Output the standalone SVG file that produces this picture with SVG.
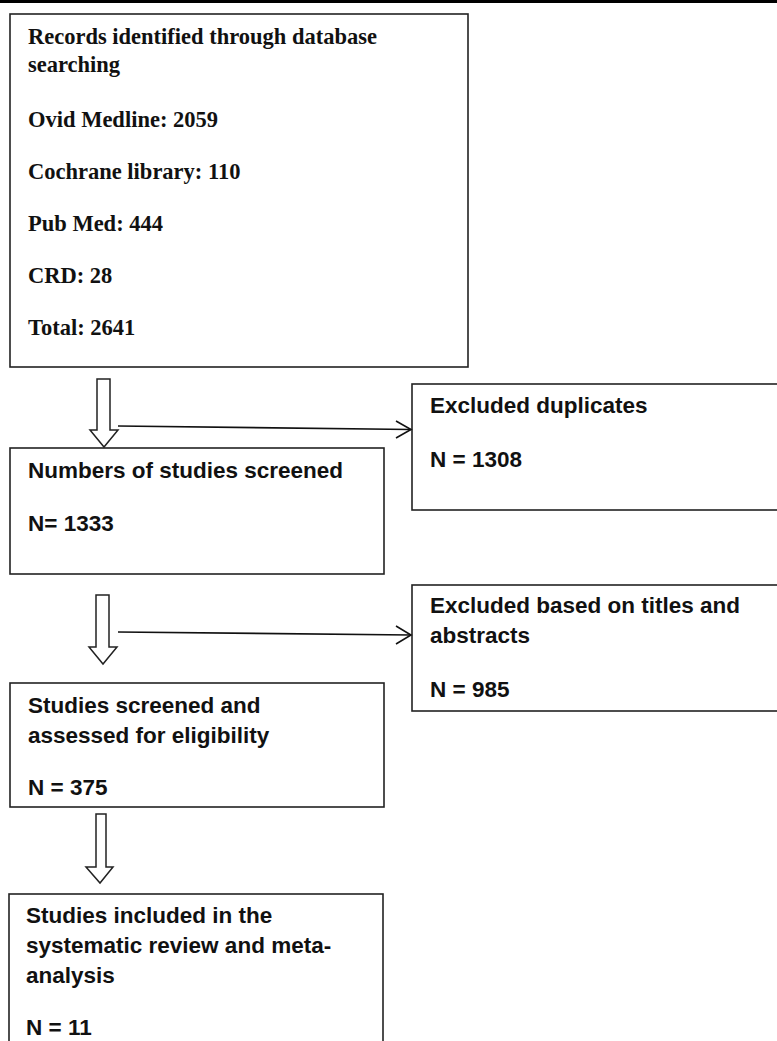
<svg xmlns="http://www.w3.org/2000/svg" width="777" height="1041" viewBox="0 0 777 1041">
<style>
.box{fill:#fff;stroke:#222;stroke-width:1.6}
.hol{fill:#fff;stroke:#222;stroke-width:1.5;stroke-linejoin:miter}
.ln{fill:none;stroke:#111;stroke-width:1.6}
.serif{font-family:"Liberation Serif","Times New Roman",serif;font-weight:bold;font-size:22.5px;fill:#111}
.sans{font-family:"Liberation Sans",Arial,sans-serif;font-weight:bold;font-size:22.5px;fill:#111}
</style>
<rect x="0" y="0" width="777" height="1041" fill="#fff"/>
<rect x="0" y="0" width="777" height="3" fill="#000"/>
<g id="records">
<rect class="box" x="10" y="14" width="458" height="353"/>
<text class="serif" x="28" y="44">Records identified through database</text>
<text class="serif" x="28" y="72">searching</text>
<text class="serif" x="28" y="127">Ovid Medline: 2059</text>
<text class="serif" x="28" y="179">Cochrane library: 110</text>
<text class="serif" x="28" y="231">Pub Med: 444</text>
<text class="serif" x="28" y="283">CRD: 28</text>
<text class="serif" x="28" y="335">Total: 2641</text>
</g>
<g id="screened">
<rect class="box" x="10" y="448" width="374" height="126"/>
<text class="sans" x="28" y="478">Numbers of studies screened</text>
<text class="sans" x="28" y="531">N= 1333</text>
</g>
<g id="duplicates">
<rect class="box" x="412" y="384" width="370" height="126"/>
<text class="sans" x="430" y="413">Excluded duplicates</text>
<text class="sans" x="430" y="467">N = 1308</text>
</g>
<g id="titles">
<rect class="box" x="412" y="585" width="370" height="126"/>
<text class="sans" x="430" y="613">Excluded based on titles and</text>
<text class="sans" x="430" y="643">abstracts</text>
<text class="sans" x="430" y="697">N = 985</text>
</g>
<g id="eligibility">
<rect class="box" x="10" y="683" width="374" height="124"/>
<text class="sans" x="28" y="713">Studies screened and</text>
<text class="sans" x="28" y="743">assessed for eligibility</text>
<text class="sans" x="28" y="795">N = 375</text>
</g>
<g id="included">
<rect class="box" x="9" y="894" width="374" height="160"/>
<text class="sans" x="26" y="923">Studies included in the</text>
<text class="sans" x="26" y="953">systematic review and meta-</text>
<text class="sans" x="26" y="983">analysis</text>
<text class="sans" x="26" y="1035">N = 11</text>
</g>
<g id="connectors">
<polygon class="hol" points="97,379 110,379 110,430 118,430 104,447 90,430 97,430"/>
<polygon class="hol" points="96,595 109,595 109,647 117,647 103,664 89,647 96,647"/>
<polygon class="hol" points="96,814 106,814 106,867 113,867 100,883 86,867 96,867"/>
<line class="ln" x1="118" y1="426" x2="411" y2="429.5"/>
<polyline class="ln" points="396,421 411,429.5 396,438"/>
<line class="ln" x1="118" y1="632" x2="411" y2="635"/>
<polyline class="ln" points="396,626 411,635 396,644"/>
</g>
</svg>
